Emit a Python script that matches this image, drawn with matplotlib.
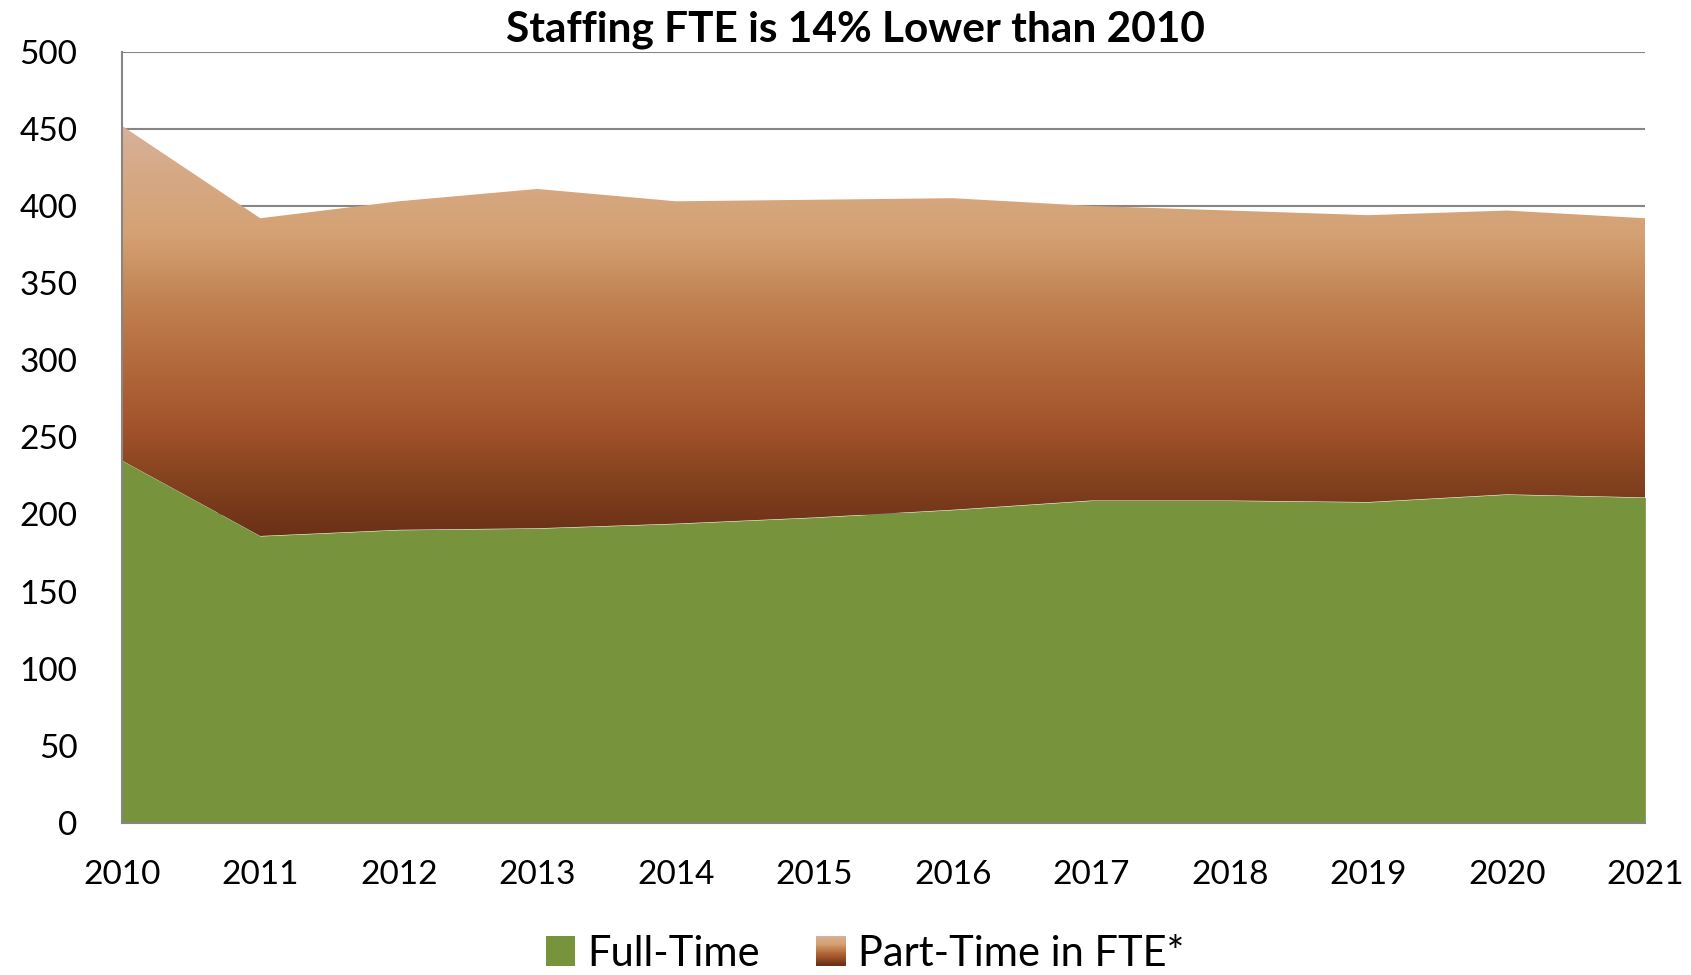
import matplotlib
matplotlib.use("Agg")
import matplotlib.pyplot as plt
import numpy as np
from matplotlib.colors import LinearSegmentedColormap
from matplotlib.patches import Rectangle
from matplotlib.legend_handler import HandlerBase

plt.rcParams['font.family'] = ['Lato', 'DejaVu Sans']

years = ['2010', '2011', '2012', '2013', '2014', '2015', '2016', '2017', '2018', '2019', '2020', '2021']
full_time = [235, 186, 190, 191, 194, 198, 203, 209, 209, 208, 213, 211]
part_time_fte = [217, 206, 213, 220, 209, 206, 202, 191, 188, 186, 184, 181]
title = "Staffing FTE is 14% Lower than 2010"
legend_labels = ["Full-Time", "Part-Time in FTE*"]
y_ticks = [0, 50, 100, 150, 200, 250, 300, 350, 400, 450, 500]

green = '#77933C'
grad_stops = [(0.0, '#6A3016'), (0.15, '#874420'), (0.26, '#A2522A'), (0.43, '#B46B3D'),
              (0.58, '#C28353'), (0.73, '#D4A172'), (0.88, '#D6A985'), (1.0, '#D9B19B')]
cmap = LinearSegmentedColormap.from_list('pt', grad_stops)

x = np.arange(len(years))
ft = np.array(full_time, dtype=float)
total = ft + np.array(part_time_fte, dtype=float)

fig = plt.figure(figsize=(16.91, 9.75), dpi=100)
ax = fig.add_axes([0.072, 0.156, 0.901, 0.791])

ax.set_ylim(0, 500)
ax.set_xlim(x[0], x[-1])
ax.set_yticks(y_ticks)
ax.yaxis.grid(True, color='#868686', linewidth=1.5, zorder=0)
ax.set_axisbelow(True)

ax.fill_between(x, 0, ft, color=green, linewidth=0, zorder=2)
poly = ax.fill_between(x, ft, total, facecolor='none', linewidth=0, zorder=2)
ymin, ymax = ft.min(), total.max()
grad = np.linspace(0, 1, 256).reshape(-1, 1)
im = ax.imshow(grad, cmap=cmap, origin='lower', aspect='auto',
               extent=[x[0], x[-1], ymin, ymax], zorder=2, interpolation='bilinear')
im.set_clip_path(poly.get_paths()[0], transform=ax.transData)
ax.set_xlim(x[0], x[-1])
ax.set_ylim(0, 500)

ax.set_xticks(x)
ax.set_xticklabels(years)
ax.tick_params(axis='both', length=0, labelsize=24, colors='black')
ax.tick_params(axis='x', pad=27)
ax.tick_params(axis='y', pad=32)
for s in ['top', 'right']:
    ax.spines[s].set_visible(False)
for s in ['left', 'bottom']:
    ax.spines[s].set_color('#868686')
    ax.spines[s].set_linewidth(1.5)
    ax.spines[s].set_zorder(3)

fig.text(0.506, 0.969, title, ha='center', va='center', fontsize=30.5, fontweight='bold')


class GradHandler(HandlerBase):
    def create_artists(self, legend, orig_handle, xdescent, ydescent, width, height, fontsize, trans):
        arts = []
        n = 30
        side = height * 1.0
        x0 = xdescent + (width - side) / 2
        y0 = ydescent - (side - height) / 2
        for i in range(n):
            c = cmap(1 - (i + 0.5) / n)
            r = Rectangle((x0, y0 + side - (i + 1) * side / n), side, side / n + 0.3,
                          facecolor=c, edgecolor='none', transform=trans)
            arts.append(r)
        return arts


class SquareHandler(HandlerBase):
    def create_artists(self, legend, orig_handle, xdescent, ydescent, width, height, fontsize, trans):
        side = height * 1.0
        x0 = xdescent + (width - side) / 2
        y0 = ydescent - (side - height) / 2
        return [Rectangle((x0, y0), side, side, facecolor=green, edgecolor='none', transform=trans)]


h1 = Rectangle((0, 0), 1, 1)
h2 = Rectangle((0, 0), 1, 1)
fig.legend([h1, h2], legend_labels, loc='center', bbox_to_anchor=(0.511, 0.022), ncol=2,
           frameon=False, fontsize=30, handler_map={h1: SquareHandler(), h2: GradHandler()},
           handlelength=0.8, handletextpad=0.25, columnspacing=1.3)

fig.savefig('out.png', dpi=100)
